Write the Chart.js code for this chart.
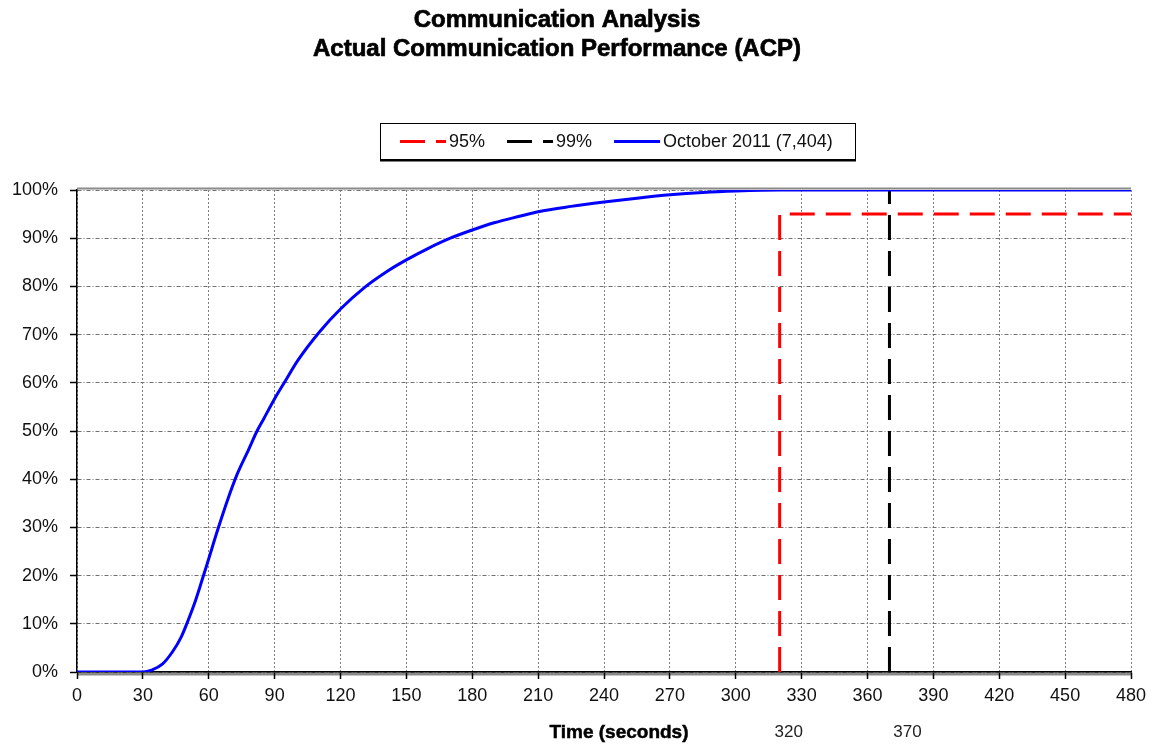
<!DOCTYPE html>
<html><head><meta charset="utf-8">
<script src="https://cdn.jsdelivr.net/npm/chart.js@4.4.1/dist/chart.umd.min.js"></script>
<style>html,body{margin:0;padding:0;background:#fff;overflow:hidden}#wrap{position:relative;width:1153px;height:749px}</style>
</head><body><div id="wrap"><canvas id="c" width="1153" height="749"></canvas></div>
<script>
// ---------- data ----------
const titleLines = ['Communication Analysis', 'Actual Communication Performance (ACP)'];
const xAxisTitle = 'Time (seconds)';
const seriesLabel = 'October 2011 (7,404)';
const times = [0, 30, 34, 39, 43.5, 47.5, 50, 53.5, 56.5, 60, 64, 68.5, 73, 78, 82, 85, 90, 94.5, 100.5, 110.5, 120, 131, 141.5, 150, 160, 170, 180, 190, 202, 210, 225, 240, 255, 270, 285, 300, 320, 480];
const acpPercent = [0, 0, 0.4, 1.7, 4.2, 7.3, 10, 14.2, 18.4, 23.5, 29.4, 35.6, 41.1, 46, 50, 52.5, 56.7, 60.1, 64.6, 70.6, 75.3, 79.8, 83.2, 85.5, 87.9, 90, 91.7, 93.2, 94.6, 95.5, 96.6, 97.5, 98.3, 99, 99.5, 99.8, 100, 100];
const p95Label = '95%';
const p95Time = [320, 320, 480];
const p95Value = [0, 95, 95];
const p99Label = '99%';
const p99Time = [370, 370];
const p99Value = [0, 100];
const markerTimes = [320, 370];
const markerLabels = ['320', '370'];
const xTicks = [0, 30, 60, 90, 120, 150, 180, 210, 240, 270, 300, 330, 360, 390, 420, 450, 480];
const yTicks = [0, 10, 20, 30, 40, 50, 60, 70, 80, 90, 100];

// ---------- rendering ----------
const FONT = '"Liberation Sans", Arial, Helvetica, sans-serif';
const pts = (xs, ys) => xs.map((x, i) => ({x: x, y: ys[i]}));
const DASH = [25, 11];

const decor = {
  id: 'decor',
  beforeDraw(chart) {
    const {ctx, chartArea: a} = chart;
    ctx.save();
    ctx.strokeStyle = '#8a8a8a';
    ctx.lineWidth = 2;
    ctx.beginPath(); ctx.moveTo(a.left, a.top - 1.5); ctx.lineTo(a.right, a.top - 1.5); ctx.stroke();
    ctx.lineWidth = 3;
    ctx.beginPath(); ctx.moveTo(a.left, a.bottom + 2); ctx.lineTo(a.right, a.bottom + 2); ctx.stroke();
    ctx.restore();
  },
  afterDraw(chart) {
    const {ctx} = chart;
    const xs = chart.scales.x;
    ctx.save();
    // title
    ctx.fillStyle = '#000'; ctx.strokeStyle = '#000'; ctx.lineWidth = 0.7;
    ctx.font = 'bold 24px ' + FONT; ctx.textAlign = 'center'; ctx.textBaseline = 'alphabetic';
    const tb = [26.5, 55.5];
    titleLines.forEach((t, i) => { ctx.fillText(t, 557, tb[i]); ctx.strokeText(t, 557, tb[i]); });
    // axis title
    ctx.font = 'bold 19px ' + FONT; ctx.lineWidth = 0.5;
    ctx.textBaseline = 'middle';
    ctx.fillText(xAxisTitle, 619, 733); ctx.strokeText(xAxisTitle, 619, 733);
    // marker labels
    ctx.font = '17px ' + FONT; ctx.fillStyle = '#222';
    const offs = [9, 18];
    markerTimes.forEach((t, i) => ctx.fillText(markerLabels[i], xs.getPixelForValue(t) + offs[i], 732));
    // legend
    const bx = 380, by = 123, bw = 475, bh = 36;
    ctx.strokeStyle = '#000'; ctx.lineWidth = 1;
    ctx.strokeRect(bx + 0.5, by + 0.5, bw, bh);
    ctx.lineWidth = 2;
    ctx.beginPath(); ctx.moveTo(bx, by + bh + 1.5); ctx.lineTo(bx + bw + 1, by + bh + 1.5); ctx.stroke();
    const ds = chart.data.datasets;
    const order = [1, 2, 0];
    let x = 400; const ly = by + bh / 2 + 0.5;
    ctx.font = '18px ' + FONT; ctx.textAlign = 'left'; ctx.textBaseline = 'middle';
    order.forEach(idx => {
      const d = ds[idx];
      ctx.save();
      ctx.strokeStyle = d.borderColor; ctx.lineWidth = 3;
      ctx.setLineDash(d.borderDash || []);
      ctx.beginPath(); ctx.moveTo(x, ly); ctx.lineTo(x + 46, ly); ctx.stroke();
      ctx.restore();
      ctx.fillStyle = '#111';
      ctx.fillText(d.label, x + 49, ly + 1);
      x += 49 + ctx.measureText(d.label).width + 22;
    });
    ctx.restore();
  }
};

new Chart(document.getElementById('c'), {
  type: 'line',
  data: {
    datasets: [
      {label: seriesLabel, data: pts(times, acpPercent), borderColor: '#0000ff', borderWidth: 3, pointRadius: 0, fill: false, cubicInterpolationMode: 'monotone'},
      {label: p95Label, data: pts(p95Time, p95Value), borderColor: '#ff0000', borderWidth: 3, borderDash: DASH, pointRadius: 0, fill: false, tension: 0},
      {label: p99Label, data: pts(p99Time, p99Value), borderColor: '#000000', borderWidth: 3, borderDash: DASH, pointRadius: 0, fill: false, tension: 0}
    ]
  },
  options: {
    responsive: false, animation: false, devicePixelRatio: 1,
    layout: {padding: {top: 190, right: 22, bottom: 0, left: 0}},
    plugins: {legend: {display: false}, title: {display: false}, tooltip: {enabled: false}},
    scales: {
      x: {
        type: 'linear', min: 0, max: 480,
        afterBuildTicks: s => { s.ticks = xTicks.map(v => ({value: v})); },
        afterFit: s => { s.height = 77; },
        ticks: {font: {family: FONT, size: 18}, color: '#111', padding: 6, maxRotation: 0, autoSkip: false},
        grid: {color: '#808080', lineWidth: 1, tickLength: 7, tickColor: '#000', tickWidth: 1.5, tickBorderDash: [], borderDash: [2, 2]},
        border: {color: '#000', width: 1.5, dash: [2, 2]}
      },
      y: {
        min: 0, max: 100,
        afterBuildTicks: s => { s.ticks = yTicks.map(v => ({value: v})); },
        afterFit: s => { s.width = 77; },
        ticks: {font: {family: FONT, size: 18}, color: '#111', padding: 12, callback: v => v + '%'},
        grid: {color: '#707070', lineWidth: 1, tickLength: 7, tickColor: '#000', tickWidth: 1.5, tickBorderDash: [], borderDash: [4, 2, 1, 2]},
        border: {color: '#000', width: 1.5, dash: [4, 2, 1, 2]}
      }
    }
  },
  plugins: [decor]
});
</script></body></html>
